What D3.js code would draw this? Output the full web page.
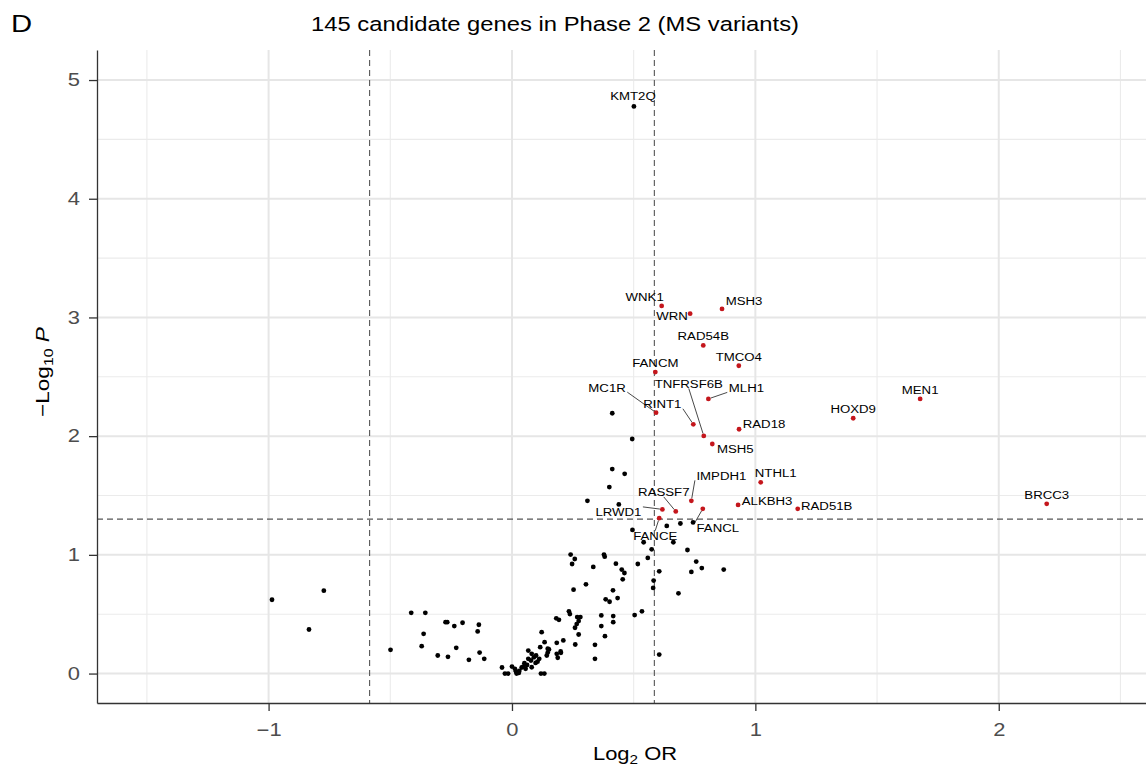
<!DOCTYPE html>
<html>
<head>
<meta charset="utf-8">
<script src="https://cdn.jsdelivr.net/npm/d3@7"></script>
<style>
	html, body { margin: 0; padding: 0; background: #fff; }
	svg { display: block; font-family: "Liberation Sans", Arial, Helvetica, sans-serif; }
</style>
</head>
<body>
<svg id="viz_area" width="1146" height="770"></svg>
<script>
// genes without a label: log2 OR and -log10 P
const bgOR = [
	-0.986, -0.773, -0.834, -0.499, -0.414, -0.356, -0.363, -0.371, -0.305, -0.273,
	-0.266, -0.237, -0.203, -0.263, -0.229, -0.177, -0.136, -0.141, -0.133, -0.114,
	0.495, 0.636, 0.692, 0.744, 0.541, 0.574, 0.663, 0.721, 0.517, 0.558,
	0.605, 0.757, 0.737, 0.780, 0.870, 0.582, 0.580, 0.684, 0.605, 0.534,
	0.504, 0.241, 0.258, 0.247, 0.378, 0.381, 0.334, 0.427, 0.451, 0.462,
	0.455, 0.253, 0.304, 0.415, 0.385, 0.401, 0.434, 0.234, 0.238, 0.182,
	0.193, 0.281, 0.274, 0.266, 0.259, 0.274, 0.260, 0.367, 0.416, 0.416,
	0.367, 0.382, 0.341, 0.341, 0.122, 0.134, 0.116, 0.184, 0.211, 0.152,
	0.147, 0.143, 0.184, 0.188, 0.201, 0.067, 0.081, 0.099, 0.112, 0.097,
	0.051, 0.047, 0.040, 0.056, 0.081, 0.016, 0.019, 0.000, -0.041, -0.029,
	-0.016, 0.119, 0.133, 0.412, 0.463, 0.400, 0.310, 0.439, 0.412, 0.494,
	0.067, 0.078, 0.012, 0.030, 0.062, 0.090, 0.028, 0.105, 0.147, 0.200,
	0.268
];
const bgP = [
	0.622, 0.698, 0.371, 0.200, 0.512, 0.512, 0.335, 0.231, 0.152, 0.433,
	0.433, 0.400, 0.428, 0.141, 0.217, 0.116, 0.411, 0.355, 0.177, 0.124,
	1.210, 1.244, 1.264, 1.273, 1.106, 1.047, 1.106, 1.041, 0.923, 0.974,
	0.861, 0.943, 0.856, 0.889, 0.876, 0.783, 0.721, 0.676, 0.160, 0.524,
	0.493, 1.002, 0.965, 0.923, 1.002, 0.985, 0.898, 0.926, 0.876, 0.847,
	0.794, 0.707, 0.752, 0.701, 0.625, 0.605, 0.636, 0.524, 0.501, 0.465,
	0.453, 0.476, 0.442, 0.417, 0.386, 0.329, 0.245, 0.490, 0.484, 0.433,
	0.400, 0.315, 0.242, 0.124, 0.349, 0.264, 0.222, 0.259, 0.279, 0.203,
	0.177, 0.152, 0.166, 0.133, 0.175, 0.194, 0.166, 0.152, 0.124, 0.090,
	0.087, 0.059, 0.051, 0.040, 0.053, 0.019, 0.000, 0.059, 0.051, 0.000,
	0.000, 0.000, 0.000, 1.723, 1.683, 1.571, 1.455, 1.425, 2.193, 1.976,
	0.124, 0.110, 0.040, 0.022, 0.072, 0.137, 0.005, 0.100, 0.209, 0.186,
	0.476
];

// labelled genes
const geneNames = ['KMT2Q', 'WNK1', 'WRN', 'MSH3', 'RAD54B', 'TMCO4', 'FANCM', 'MC1R', 'TNFRSF6B', 'MLH1',
	'RINT1', 'RAD18', 'MSH5', 'HOXD9', 'MEN1', 'BRCC3', 'IMPDH1', 'RASSF7', 'LRWD1', 'FANCE',
	'FANCL', 'ALKBH3', 'NTHL1', 'RAD51B'];
const geneOR = [0.501, 0.615, 0.732, 0.863, 0.786, 0.932, 0.589, 0.592, 0.788, 0.807,
	0.745, 0.933, 0.823, 1.402, 1.677, 2.197, 0.737, 0.673, 0.618, 0.605,
	0.784, 0.929, 1.022, 1.174];
const geneP = [4.778, 3.097, 3.032, 3.072, 2.764, 2.593, 2.540, 2.198, 2.002, 2.314,
	2.100, 2.058, 1.934, 2.151, 2.314, 1.430, 1.455, 1.366, 1.383, 1.309,
	1.388, 1.421, 1.611, 1.388];

// cut-offs
const orCut = Math.log2(1.5);
const pCut = -Math.log10(0.05);

const xTicks = [-1, 0, 1, 2];
const yTicks = [0, 1, 2, 3, 4, 5];

// where the repel step put each label, relative to its point (px)
const labelNudge = {
	KMT2Q: [-1, -10], WNK1: [-17, -9], WRN: [-18, 2], MSH3: [22, -8], RAD54B: [0, -9],
	TMCO4: [0, -9], FANCM: [0, -9], MC1R: [-49, -25], TNFRSF6B: [-15, -52], MLH1: [38, -11],
	RINT1: [-31, -20], RAD18: [25, -5], MSH5: [23, 5], HOXD9: [0, -9], MEN1: [0, -9],
	BRCC3: [0, -9], IMPDH1: [30, -25], RASSF7: [-12, -19], LRWD1: [-44, 3], FANCE: [-4, 18],
	FANCL: [15, 19], ALKBH3: [29, -4], NTHL1: [15, -9], RAD51B: [29, -3]
};

const svg = d3.select('#viz_area');
const pLeft = 97, pRight = 1146, pTop = 50, pBottom = 703;
const SX = 1.22; // the source font runs wider than Helvetica
const hitColor = '#c4161c';

let x = d3.scaleLinear().domain([-1.705, 2.605]).range([pLeft, pRight]);
let y = d3.scaleLinear().domain([-0.248, 5.253]).range([pBottom, pTop]);

//grid, minor first then major
const grid = svg.append('g');
const xMinor = [-1.5, -0.5, 0.5, 1.5, 2.5];
const yMinor = [0.5, 1.5, 2.5, 3.5, 4.5];
grid.selectAll('.xmin').data(xMinor).join('line').attr('class', 'xmin')
	.attr('x1', d => x(d)).attr('x2', d => x(d)).attr('y1', pTop).attr('y2', pBottom)
	.attr('stroke', '#ebebeb').attr('stroke-width', 1.1);
grid.selectAll('.ymin').data(yMinor).join('line').attr('class', 'ymin')
	.attr('x1', pLeft).attr('x2', pRight).attr('y1', d => y(d)).attr('y2', d => y(d))
	.attr('stroke', '#ebebeb').attr('stroke-width', 1.1);
grid.selectAll('.xmaj').data(xTicks).join('line').attr('class', 'xmaj')
	.attr('x1', d => x(d)).attr('x2', d => x(d)).attr('y1', pTop).attr('y2', pBottom)
	.attr('stroke', '#e6e6e6').attr('stroke-width', 2);
grid.selectAll('.ymaj').data(yTicks).join('line').attr('class', 'ymaj')
	.attr('x1', pLeft).attr('x2', pRight).attr('y1', d => y(d)).attr('y2', d => y(d))
	.attr('stroke', '#e6e6e6').attr('stroke-width', 2);

//threshold lines
const cuts = svg.append('g').attr('stroke', '#555').attr('stroke-width', 1.1).attr('stroke-dasharray', '6,4');
[-orCut, orCut].forEach(function(v) {
	cuts.append('line').attr('x1', x(v)).attr('x2', x(v)).attr('y1', pTop).attr('y2', pBottom);
});
cuts.append('line').attr('x1', pLeft).attr('x2', pRight).attr('y1', y(pCut)).attr('y2', y(pCut));

//axes
const xAxis = svg.append('g').attr('transform', 'translate(0,' + pBottom + ')')
	.call(d3.axisBottom(x).tickValues(xTicks).tickSize(8).tickSizeOuter(0).tickPadding(12)
		.tickFormat(d => d < 0 ? '\u2212' + Math.abs(d) : d));
const yAxis = svg.append('g').attr('transform', 'translate(' + pLeft + ',0)')
	.call(d3.axisLeft(y).tickValues(yTicks).tickSize(8).tickSizeOuter(0).tickPadding(9)
		.tickFormat(d3.format('d')));
[xAxis, yAxis].forEach(function(a) {
	a.select('.domain').attr('stroke', '#333').attr('stroke-width', 1.3);
	a.selectAll('.tick line').attr('stroke', '#333').attr('stroke-width', 1.3);
	a.selectAll('.tick text').attr('fill', '#4d4d4d').style('font-size', '18px')
		.style('font-family', '"Liberation Sans", Arial, sans-serif')
		.attr('transform', 'scale(' + SX + ',1)');
});
yAxis.selectAll('.tick text').attr('x', -17 / SX);

//points, background then hits
svg.append('g').selectAll('circle').data(bgOR).join('circle')
	.attr('cx', (d, i) => x(d)).attr('cy', (d, i) => y(bgP[i])).attr('r', 2.4).attr('fill', '#000');

const genes = geneNames.map(function(g, i) {
	let hit = geneP[i] > pCut && geneP[i] < 4;
	return { name: g, or: geneOR[i], p: geneP[i], hit: hit };
});
svg.append('g').selectAll('circle').data(genes).join('circle')
	.attr('cx', d => x(d.or)).attr('cy', d => y(d.p)).attr('r', 2.4)
	.attr('fill', d => d.hit ? hitColor : '#000');

//labels with repel style segments
const segs = svg.append('g').attr('stroke', '#333').attr('stroke-width', 0.9);
const labs = svg.append('g');
genes.forEach(function(d) {
	let px = x(d.or), py = y(d.p);
	let cx = px + labelNudge[d.name][0], cy = py + labelNudge[d.name][1];
	let t = labs.append('text')
		.attr('transform', 'translate(' + cx + ',' + (cy + 4) + ') scale(1.15,1)')
		.attr('text-anchor', 'middle').style('font-size', '11.5px').attr('fill', '#000')
		.text(d.name);
	let w = t.node().getComputedTextLength() * 1.15;
	let bx0 = cx - w / 2 - 1.5, bx1 = cx + w / 2 + 1.5, by0 = cy - 5.5, by1 = cy + 4.5;
	// distance from point to box
	let ddx = Math.max(bx0 - px, 0, px - bx1), ddy = Math.max(by0 - py, 0, py - by1);
	if (Math.hypot(ddx, ddy) < 11) return;
	let best = null, bestD = Infinity;
	[bx0, cx, bx1].forEach(function(ax) {
		[by0, cy, by1].forEach(function(ay) {
			if (ax === cx && ay === cy) return;
			let dd = Math.hypot(ax - px, ay - py);
			if (dd < bestD) { bestD = dd; best = [ax, ay]; }
		});
	});
	let k = (bestD - 2.5) / bestD;
	segs.append('line').attr('x1', best[0]).attr('y1', best[1])
		.attr('x2', best[0] + (px - best[0]) * k).attr('y2', best[1] + (py - best[1]) * k);
});

//titles
svg.append('text').attr('transform', 'translate(11,32) scale(' + SX + ',1)')
	.style('font-size', '24px').text('D');
svg.append('text').attr('transform', 'translate(555,31) scale(' + SX + ',1)')
	.attr('text-anchor', 'middle').style('font-size', '19.5px')
	.text('145 candidate genes in Phase 2 (MS variants)');

let xt = svg.append('text').attr('transform', 'translate(635,760) scale(' + SX + ',1)')
	.attr('text-anchor', 'middle').style('font-size', '18px');
xt.append('tspan').text('Log');
xt.append('tspan').attr('dy', 4).style('font-size', '12.5px').text('2');
xt.append('tspan').attr('dy', -4).text(' OR');

let yt = svg.append('text').attr('transform', 'translate(49,372) rotate(-90) scale(' + SX + ',1)')
	.attr('text-anchor', 'middle').style('font-size', '18.5px');
yt.append('tspan').text('\u2212Log');
yt.append('tspan').attr('dy', 4).style('font-size', '13px').text('10');
yt.append('tspan').attr('dy', -4).text(' ');
yt.append('tspan').style('font-style', 'italic').text('P');
</script>
</body>
</html>
